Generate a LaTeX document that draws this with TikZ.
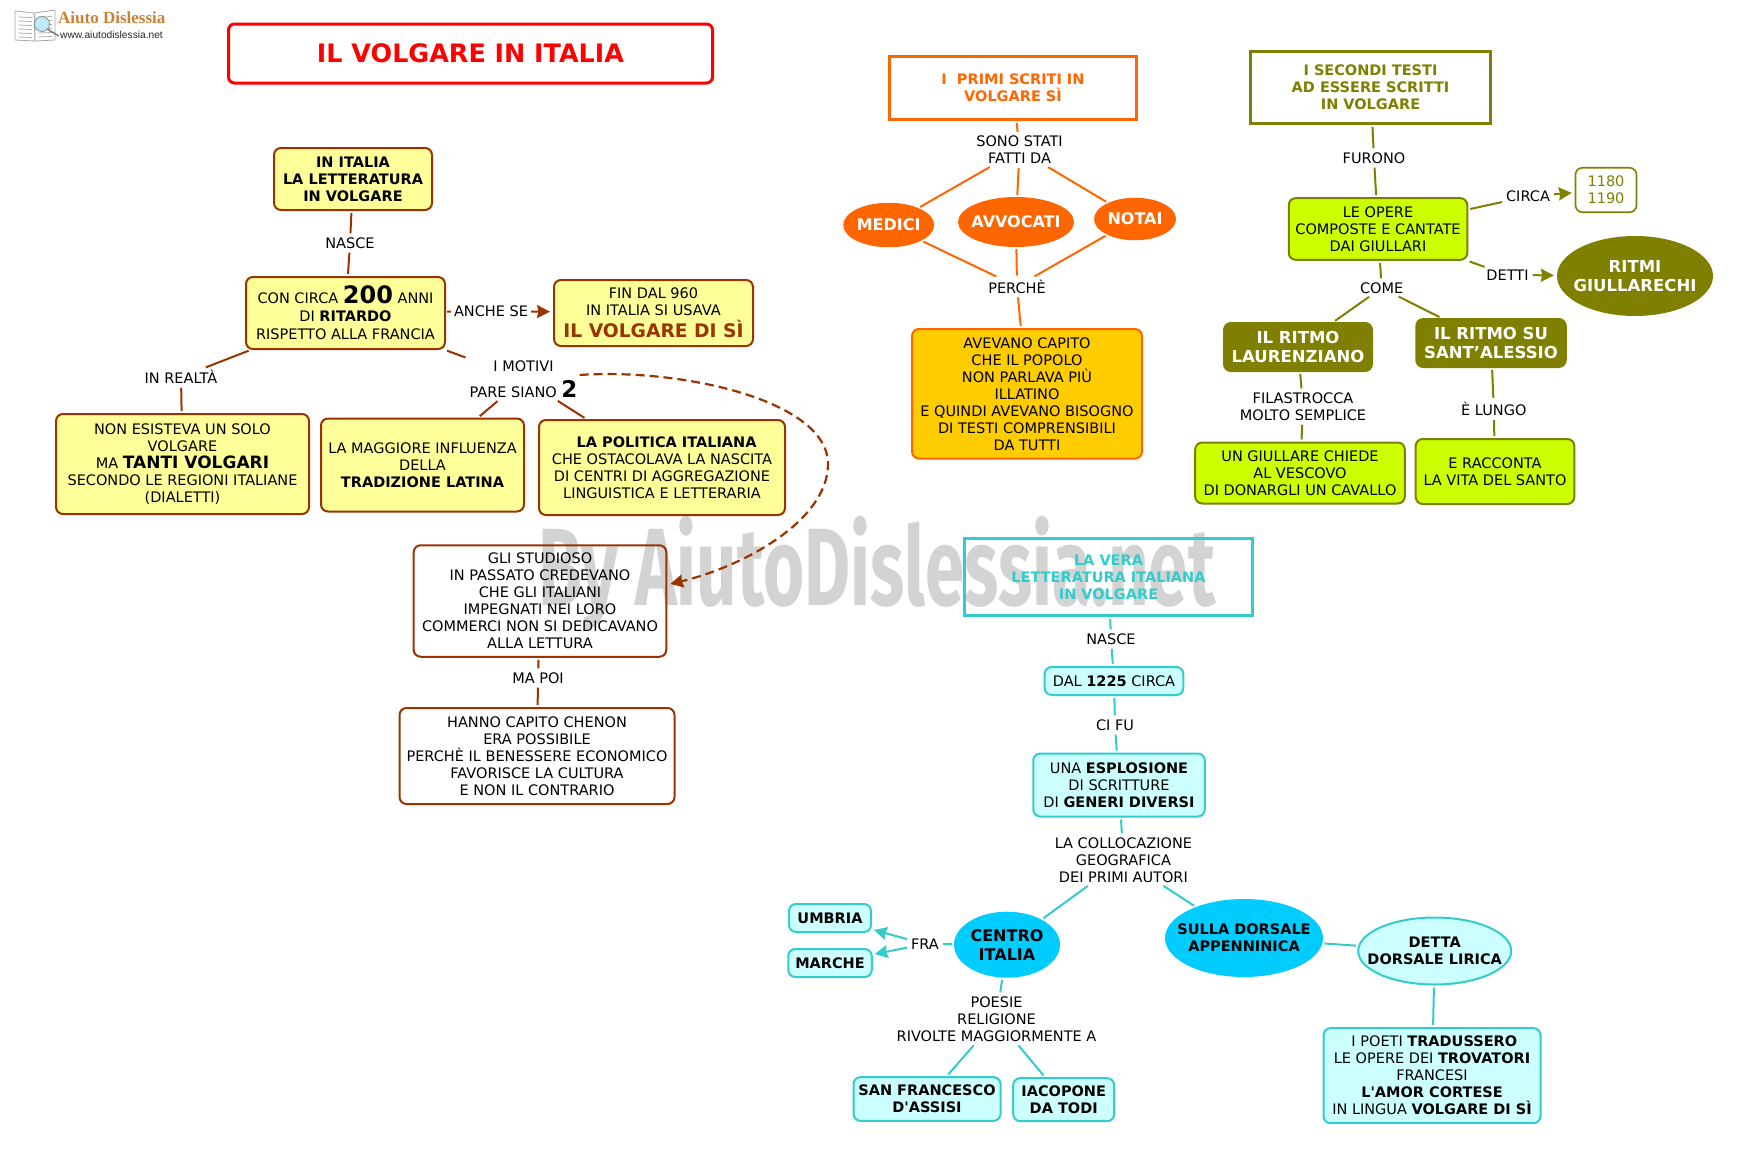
\documentclass[tikz,border=0pt]{standalone}
\usepackage{fontspec}
\setmainfont{DejaVu Sans}
\newfontfamily\plainf{DejaVu Sans}
\newfontfamily\wmfont{Fira Sans}
\newfontfamily\logofont{Liberation Serif}
\newfontfamily\urlfont{Liberation Sans}
\usetikzlibrary{arrows.meta,shapes.geometric,calc}
\newcommand{\fsz}[2]{\fontsize{#1}{#2}\selectfont}
\newcommand{\bigb}[2]{{\fontsize{#1}{17}\selectfont\bfseries #2}}
\newcommand{\sq}{{\plainf '}}
\definecolor{brownc}{HTML}{993300}
\definecolor{yfill}{HTML}{FFFF99}
\definecolor{orangec}{HTML}{FF6600}
\definecolor{amber}{HTML}{FFCC00}
\definecolor{olivec}{HTML}{808000}
\definecolor{limec}{HTML}{CCFF00}
\definecolor{cyanc}{HTML}{33CCCC}
\definecolor{cfill}{HTML}{CCFFFF}
\definecolor{skyc}{HTML}{00CCFF}
\definecolor{wm}{HTML}{D3D3D3}
\tikzset{
  txt/.style={font=\fsz{14.5}{17},align=center,inner sep=0pt,text=black},
  lbl/.style={txt,inner sep=2pt},
  rbox/.style={txt,draw,rounded corners=7pt,line width=2pt},
  ybox/.style={rbox,draw=brownc,fill=yfill},
  wbox/.style={rbox,draw=brownc},
  obox/.style={rbox,draw=orangec,fill=amber},
  lbox/.style={rbox,draw=olivec,fill=limec},
  dbox/.style={rbox,draw=olivec,fill=olivec,text=white,font=\fsz{16.5}{19.5}\bfseries},
  cbox/.style={rbox,draw=cyanc,fill=cfill},
  head/.style={txt,draw,line width=3pt,font=\fsz{14.5}{17}\bfseries},
  ell/.style={txt,ellipse,inner xsep=-30pt,inner ysep=-12pt},
  oell/.style={ell,fill=orangec,text=white,font=\fsz{16}{19}\bfseries},
  conn/.style={line width=2pt,shorten <=2pt,shorten >=2pt},
  cb/.style={conn,draw=brownc},
  co/.style={conn,draw=orangec},
  cv/.style={conn,draw=olivec},
  cc/.style={conn,draw=cyanc},
  tip/.style={-{Stealth[length=13pt,width=13pt,inset=1.5pt]}},
}
\begin{document}
\begin{tikzpicture}[x=1pt,y=-1pt]
\fill[white] (0,0) rectangle (1753,1159);
\path[use as bounding box] (0,0) rectangle (1753,1159);

% watermark
\node[anchor=base west,inner sep=0pt,text=wm] (wmk) at (538,605)
  {\scalebox{.643}[1]{\wmfont\fontsize{110}{110}\selectfont\bfseries By AiutoDislessia.net}};

% logo
\fill[white,draw=black!35,line width=.8pt] (15,11) -- (34,13) -- (35,41) -- (15,40) -- cycle;
\fill[white,draw=black!35,line width=.8pt] (35,13) -- (55,10) -- (55,40) -- (35,41) -- cycle;
\foreach \yy in {17,21,25,29,33,37}{
  \draw[black!30,line width=.8pt] (18,\yy) -- (32,\yy+.5);
  \draw[black!30,line width=.8pt] (38,\yy) -- (52,\yy-.5);
}
\draw[black!60,line width=1.2pt] (47,29) -- (59,36);
\fill[cyan!25,draw=black!45,line width=.8pt] (42,24) circle (7.5);
\node[anchor=west,inner sep=0pt,text=brown!80!orange] (logot) at (58,18)
  {\logofont\fontsize{17}{17}\selectfont\bfseries Aiuto Dislessia};
\node[anchor=west,inner sep=0pt,text=black!85] (logou) at (60,35)
  {\urlfont\fontsize{10.2}{12}\selectfont www.aiutodislessia.net};

% title
\node[txt,draw=red,line width=3pt,rounded corners=6pt,minimum width=484,minimum height=59,
  text=red,font=\fsz{25.4}{30}\bfseries] (title) at (470.5,53.5) {IL VOLGARE IN ITALIA};

% brown part
\node[ybox,minimum width=158,minimum height=62,font=\fsz{14.5}{17}\bfseries] (a1) at (353,179) {IN ITALIA\\LA LETTERATURA\\IN VOLGARE};
\node[ybox,minimum width=199,minimum height=72] (a2) at (345.5,313) {CON CIRCA \bigb{24}{200} ANNI\\[1pt]DI \textbf{RITARDO}\\[1pt]RISPETTO ALLA FRANCIA};
\node[ybox,minimum width=199,minimum height=66] (a3) at (653.5,313) {FIN DAL 960\\IN ITALIA SI USAVA\\[3pt]{\color{brownc}\bigb{18.7}{IL VOLGARE DI SÌ}}};
\node[ybox,minimum width=253,minimum height=100] (a4) at (182.5,464) {NON ESISTEVA UN SOLO\\VOLGARE\\MA \bigb{17}{TANTI VOLGARI}\\SECONDO LE REGIONI ITALIANE\\(DIALETTI)};
\node[ybox,minimum width=203,minimum height=93] (a5) at (422.5,465) {LA MAGGIORE INFLUENZA\\DELLA\\\textbf{TRADIZIONE LATINA}};
\node[ybox,minimum width=246,minimum height=95] (a6) at (662,467.5) {\ \ \textbf{LA POLITICA ITALIANA}\\CHE OSTACOLAVA LA NASCITA\\DI CENTRI DI AGGREGAZIONE\\LINGUISTICA E LETTERARIA};
\node[wbox,minimum width=252.6,minimum height=111.5] (b1) at (540,601) {GLI STUDIOSO\\IN PASSATO CREDEVANO\\CHE GLI ITALIANI\\IMPEGNATI NEI LORO\\COMMERCI NON SI DEDICAVANO\\ALLA LETTURA};
\node[wbox,minimum width=275,minimum height=96] (b2) at (537,756) {HANNO CAPITO CHENON\\ERA POSSIBILE\\PERCHÈ IL BENESSERE ECONOMICO\\FAVORISCE LA CULTURA\\E NON IL CONTRARIO};

\node[lbl] (nasce1) at (350,243) {NASCE};
\node[lbl] (anche) at (491,311) {ANCHE SE};
\node[lbl] (realta) at (181,377) {IN REALTÀ};
\node[lbl] (motivi) at (523.5,379) {I MOTIVI\\[8pt]PARE SIANO \bigb{23}{2}};
\node[lbl] (mapoi) at (538,678) {MA POI};

\draw[cb] (a1) -- (nasce1);
\draw[cb] (nasce1) -- (a2);
\draw[cb,shorten <=1pt,shorten >=3pt,tip] (anche) -- (a3);
\draw[cb,shorten <=1pt,shorten >=1pt] (a2) -- (anche);
\draw[cb] (a2) -- (realta);
\draw[cb] (realta) -- (a4);
\draw[cb] (a2) -- (motivi);
\draw[cb] (motivi) -- (a5);
\draw[cb] (motivi) -- (a6);
\draw[cb] (b1) -- (mapoi);
\draw[cb] (mapoi) -- (b2);
\draw[brownc,line width=2.2pt,dash pattern=on 9pt off 5pt,tip]
  ($(motivi.east)+(0,-4)$) .. controls (680,368) and (828,400) .. (828,464)
  .. controls (828,520) and (745,566) .. ($(b1.east)+(3,-17)$);

% orange part
\node[head,draw=orangec,text=orangec,minimum width=247,minimum height=63] (d1) at (1013,88) {I\ \ PRIMI SCRITI IN\\VOLGARE SÌ};
\node[oell,minimum width=91,minimum height=44.5] (medici) at (888.7,225) {MEDICI};
\node[oell,minimum width=116,minimum height=50] (avv) at (1016,222) {AVVOCATI};
\node[oell,minimum width=82,minimum height=42.5] (notai) at (1135,219) {NOTAI};
\node[obox,minimum width=230,minimum height=129.6] (d2) at (1027,393.8) {AVEVANO CAPITO\\CHE IL POPOLO\\NON PARLAVA PIÙ\\ILLATINO\\E QUINDI AVEVANO BISOGNO\\DI TESTI COMPRENSIBILI\\DA TUTTI};
\node[lbl] (sono) at (1019.5,150) {SONO STATI\\FATTI DA};
\node[lbl] (perche) at (1017,286.4) {PERCHÈ};
\draw[co] (d1) -- (sono);
\draw[co] (sono) -- (medici);
\draw[co] (sono) -- (avv);
\draw[co] (sono) -- (notai);
\draw[co] (medici) -- (perche);
\draw[co] (avv) -- (perche);
\draw[co] (notai) -- (perche);
\draw[co] (perche) -- (d2);

% olive part
\node[head,draw=olivec,text=olivec,minimum width=240,minimum height=72] (e1) at (1370.5,87.5) {I SECONDI TESTI\\AD ESSERE SCRITTI\\IN VOLGARE};
\node[lbox,minimum width=178.5,minimum height=61.7] (e2) at (1378,229) {LE OPERE\\COMPOSTE E CANTATE\\DAI GIULLARI};
\node[rbox,draw=olivec,text=olivec,line width=1.6pt,minimum width=61,minimum height=44.5] (e3) at (1606,190) {1180\\1190};
\node[ell,fill=olivec,text=white,font=\fsz{16.5}{19.5}\bfseries,minimum width=156,minimum height=80] (ritmi) at (1635,276) {RITMI\\GIULLARECHI};
\node[dbox,minimum width=148,minimum height=48] (e4) at (1298,347) {IL RITMO\\LAURENZIANO};
\node[dbox,minimum width=149.5,minimum height=48] (e5) at (1491,343) {IL RITMO SU\\SANT’ALESSIO};
\node[lbox,minimum width=209.6,minimum height=61] (e6) at (1300,473) {UN GIULLARE CHIEDE\\AL VESCOVO\\DI DONARGLI UN CAVALLO};
\node[lbox,minimum width=158.6,minimum height=65] (e7) at (1495,471.5) {E RACCONTA\\LA VITA DEL SANTO};
\node[lbl] (furono) at (1374,158) {FURONO};
\node[lbl] (circa) at (1528,196.4) {CIRCA};
\node[lbl] (detti) at (1507.5,275) {DETTI};
\node[lbl] (come) at (1381.6,288) {COME};
\node[lbl] (fila) at (1303,406.6) {FILASTROCCA\\MOLTO SEMPLICE};
\node[lbl] (lungo) at (1493.8,409) {È LUNGO};
\draw[cv] (e1) -- (furono);
\draw[cv] (furono) -- (e2);
\draw[cv] (e2) -- (circa);
\draw[cv,shorten >=3pt,tip] (circa) -- (e3);
\draw[cv] (e2) -- (detti);
\draw[cv,shorten >=3pt,tip] (detti) -- (ritmi);
\draw[cv] (e2) -- (come);
\draw[cv] (come) -- (e4);
\draw[cv] (come) -- (e5);
\draw[cv] (e4) -- (fila);
\draw[cv] (fila) -- (e6);
\draw[cv] (e5) -- (lungo);
\draw[cv] (lungo) -- (e7);

% cyan part
\node[head,draw=cyanc,text=cyanc,minimum width=288,minimum height=77] (c1) at (1108.5,577) {LA VERA\\LETTERATURA ITALIANA\\IN VOLGARE};
\node[cbox,minimum width=138.6,minimum height=28] (c2) at (1114,681) {DAL \textbf{1225} CIRCA};
\node[cbox,minimum width=171.5,minimum height=63] (c3) at (1119,785) {UNA \textbf{ESPLOSIONE}\\DI SCRITTURE\\DI \textbf{GENERI DIVERSI}};
\node[ell,fill=skyc,font=\fsz{16}{19}\bfseries,minimum width=106,minimum height=66] (centro) at (1007,944.7) {CENTRO\\ITALIA};
\node[ell,fill=skyc,font=\fsz{14.5}{17}\bfseries,minimum width=158,minimum height=78] (sulla) at (1244,938) {SULLA DORSALE\\APPENNINICA};
\node[ell,draw=cyanc,fill=cfill,line width=2pt,font=\fsz{14.5}{17}\bfseries,minimum width=153,minimum height=67] (detta) at (1434.7,951) {DETTA\\DORSALE LIRICA};
\node[cbox,minimum width=217,minimum height=95] (c4) at (1432,1075.7) {\ I POETI \textbf{TRADUSSERO}\\LE OPERE DEI \textbf{TROVATORI}\\FRANCESI\\\textbf{L\sq AMOR CORTESE}\\IN LINGUA \textbf{VOLGARE DI SÌ}};
\node[cbox,font=\fsz{14.5}{17}\bfseries,minimum width=82,minimum height=28] (umbria) at (830,918) {UMBRIA};
\node[cbox,font=\fsz{14.5}{17}\bfseries,minimum width=83.5,minimum height=28] (marche) at (830,963) {MARCHE};
\node[cbox,font=\fsz{14.5}{17}\bfseries,minimum width=147,minimum height=43.7] (san) at (927,1099) {SAN FRANCESCO\\D\sq ASSISI};
\node[cbox,font=\fsz{14.5}{17}\bfseries,minimum width=101,minimum height=43] (iac) at (1063.7,1099.7) {IACOPONE\\DA TODI};
\node[lbl] (nasce2) at (1111,639) {NASCE};
\node[lbl] (cifu) at (1115,725) {CI FU};
\node[lbl] (coll) at (1123.4,860) {LA COLLOCAZIONE\\GEOGRAFICA\\DEI PRIMI AUTORI};
\node[lbl] (fra) at (925,944) {FRA};
\node[lbl] (poesie) at (996.5,1019) {POESIE\\RELIGIONE\\RIVOLTE MAGGIORMENTE A};
\draw[cc] (c1) -- (nasce2);
\draw[cc] (nasce2) -- (c2);
\draw[cc] (c2) -- (cifu);
\draw[cc] (cifu) -- (c3);
\draw[cc] (c3) -- (coll);
\draw[cc] (coll) -- (centro);
\draw[cc] (coll) -- (sulla);
\draw[cc] (sulla) -- (detta);
\draw[cc] (detta) -- (c4);
\draw[cc] (centro) -- (fra);
\draw[cc,tip] (fra) -- (umbria);
\draw[cc,tip] (fra) -- (marche);
\draw[cc] (centro) -- (poesie);
\draw[cc] (poesie) -- (san);
\draw[cc] (poesie) -- (iac);
\end{tikzpicture}
\end{document}
